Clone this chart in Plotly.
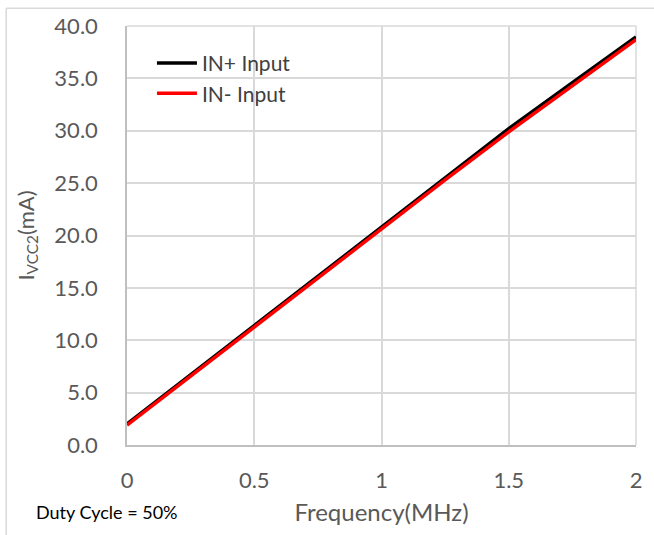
import plotly.graph_objects as go

# Supply current vs. switching frequency (duty cycle 50%)
freq_mhz = [0.0, 0.25, 0.5, 0.75, 1.0, 1.25, 1.5, 1.75, 2.0]
icc_in_plus = [2.0, 6.7, 11.4, 16.1, 20.7, 25.5, 30.2, 34.6, 38.95]
icc_in_minus = [1.9, 6.6, 11.3, 16.0, 20.6, 25.3, 29.9, 34.3, 38.7]

x_ticks = [0, 0.5, 1, 1.5, 2]
x_tick_text = ["0", "0.5", "1", "1.5", "2"]
y_ticks = [0, 5, 10, 15, 20, 25, 30, 35, 40]
y_tick_text = [f"{v:.1f}" for v in y_ticks]

FONT = "Lato, Open Sans, sans-serif"
GRID = "#d9d9d9"
TICK_COLOR = "#595959"

fig = go.Figure()
fig.add_trace(go.Scatter(
    x=freq_mhz, y=icc_in_plus, mode="lines", name="IN+ Input",
    line=dict(color="#000000", width=3.5),
))
fig.add_trace(go.Scatter(
    x=freq_mhz, y=icc_in_minus, mode="lines", name="IN- Input",
    line=dict(color="#ff0000", width=3.5),
))

fig.update_layout(
    width=654, height=535,
    margin=dict(l=127, r=17, t=23, b=90),
    paper_bgcolor="white", plot_bgcolor="white",
    font=dict(family=FONT, color=TICK_COLOR),
    showlegend=True,
    legend=dict(
        x=(152 - 127) / 510, y=(445 - 40) / 422, xanchor="left", yanchor="top",
        bgcolor="rgba(255,255,255,0)",
        font=dict(size=21, color="#404040", family=FONT),
        tracegroupgap=0, itemwidth=40,
    ),
    xaxis=dict(
        range=[0, 2], tickvals=x_ticks, ticktext=x_tick_text,
        showgrid=True, gridcolor=GRID, gridwidth=1.5,
        showline=True, linecolor="#bfbfbf", linewidth=1.5, mirror=False,
        zeroline=False, ticks="", ticklabelstandoff=15,
        tickfont=dict(size=22, color=TICK_COLOR),
        title=dict(text="Frequency(MHz)", font=dict(size=24, color=TICK_COLOR), standoff=12),
    ),
    yaxis=dict(
        range=[0, 40], tickvals=y_ticks, ticktext=y_tick_text,
        showgrid=True, gridcolor=GRID, gridwidth=1.5,
        showline=True, linecolor="#bfbfbf", linewidth=1.5,
        zeroline=False, ticks="", ticklabelstandoff=23,
        tickfont=dict(size=22, color=TICK_COLOR),
        title=dict(text="I<sub>VCC2</sub>(mA)", font=dict(size=22, color=TICK_COLOR), standoff=14),
    ),
    annotations=[
        dict(text="Duty Cycle = 50%", xref="paper", yref="paper",
             x=(34 - 127) / 510, y=(445 - 512) / 422, xanchor="left", yanchor="middle",
             showarrow=False, font=dict(size=18, color="#000000", family=FONT)),
    ],
    shapes=[
        # outer frame (left and top edges)
        dict(type="line", xref="paper", yref="paper",
             x0=(6 - 127) / 510, x1=(6 - 127) / 510, y0=(445 - 5) / 422, y1=(445 - 540) / 422,
             line=dict(color=GRID, width=1.5)),
        dict(type="line", xref="paper", yref="paper",
             x0=(6 - 127) / 510, x1=(660 - 127) / 510, y0=(445 - 5) / 422, y1=(445 - 5) / 422,
             line=dict(color=GRID, width=1.5)),
        # right and top plot-area edges
        dict(type="line", xref="paper", yref="paper", x0=1, x1=1, y0=0, y1=1,
             line=dict(color=GRID, width=1.5), layer="below"),
        dict(type="line", xref="paper", yref="paper", x0=0, x1=1, y0=1, y1=1,
             line=dict(color=GRID, width=1.5), layer="below"),
    ],
)

fig.write_html("out.html")
